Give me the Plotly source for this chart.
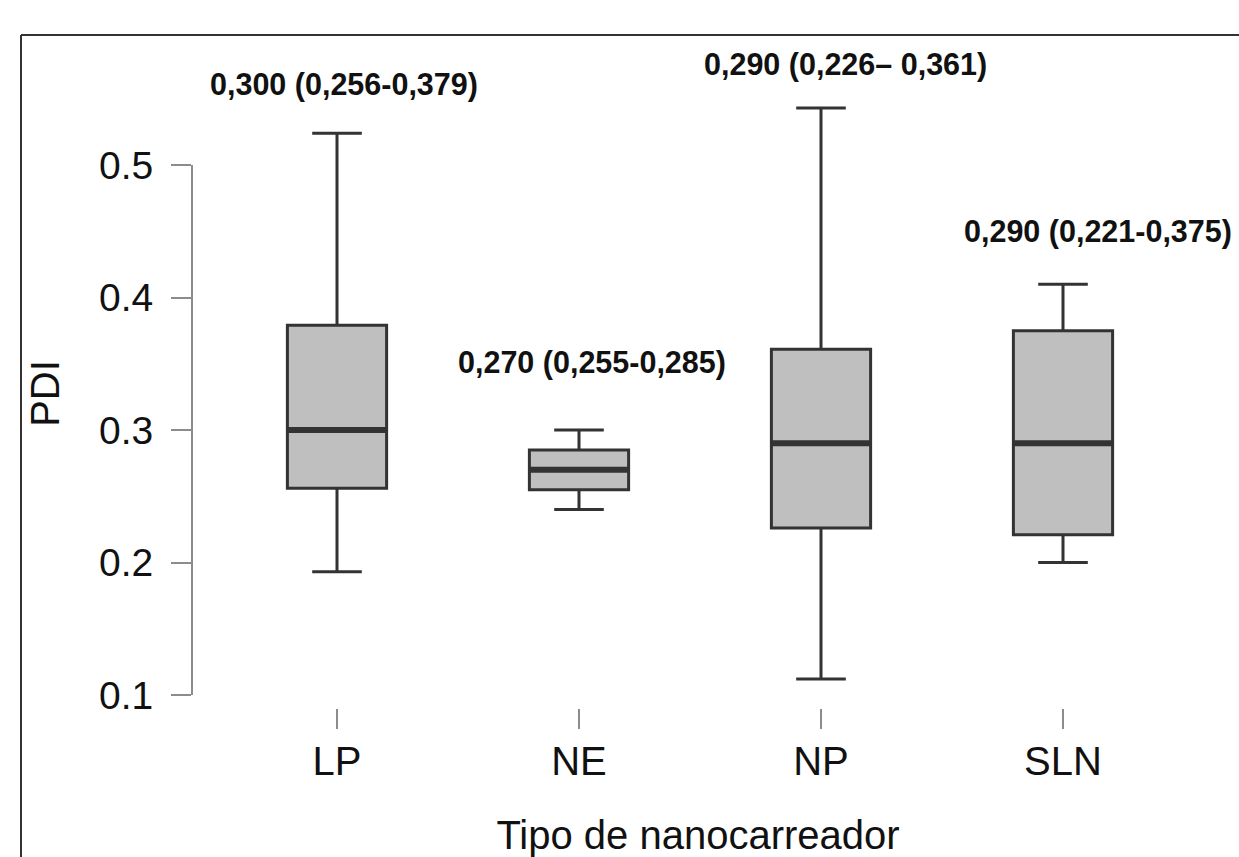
import plotly.graph_objects as go

# ---- data ----
categories = ["LP", "NE", "NP", "SLN"]
lower_whisker = [0.193, 0.240, 0.112, 0.200]
q1_values = [0.256, 0.255, 0.226, 0.221]
median_values = [0.300, 0.270, 0.290, 0.290]
q3_values = [0.379, 0.285, 0.361, 0.375]
upper_whisker = [0.524, 0.300, 0.543, 0.410]
summary_labels = [
    "0,300 (0,256-0,379)",
    "0,270 (0,255-0,285)",
    "0,290 (0,226\u2013 0,361)",
    "0,290 (0,221-0,375)",
]
y_tick_values = [0.1, 0.2, 0.3, 0.4, 0.5]
y_tick_text = ["0.1", "0.2", "0.3", "0.4", "0.5"]

# ---- layout constants ----
W, H = 1239, 857
ML, MR, MT, MB = 192, 35, 79, 149
FONT = "Liberation Sans, Arial, sans-serif"
label_x_offset = [0.027, 0.054, 0.10, 0.145]
label_y = [0.561, 0.351, 0.5755, 0.450]

px_per_unit = (695 - 165) / 0.4
y_bottom = 0.1 - (708 - 695) / px_per_unit
y_top = 0.5 + (165 - MT) / px_per_unit
x_left = (ML - 337) / 242
x_right = (W - MR - 337) / 242

fig = go.Figure()
fig.add_trace(go.Box(
    x=categories, q1=q1_values, median=median_values, q3=q3_values,
    lowerfence=lower_whisker, upperfence=upper_whisker,
    fillcolor="#bfbfbf", line=dict(color="#333333", width=3),
    whiskerwidth=0.5, width=0.41, boxpoints=False, hoverinfo="skip",
    showlegend=False,
))
# thick median lines
fig.add_trace(go.Box(
    x=categories, q1=median_values, median=median_values, q3=median_values,
    lowerfence=median_values, upperfence=median_values,
    fillcolor="rgba(0,0,0,0)", line=dict(color="#333333", width=6),
    whiskerwidth=0, width=0.41, boxpoints=False, hoverinfo="skip",
    showlegend=False,
))

for i, txt in enumerate(summary_labels):
    fig.add_annotation(
        x=i + label_x_offset[i], xref="x",
        y=(label_y[i] - y_bottom) / (y_top - y_bottom), yref="paper",
        text="<b>%s</b>" % txt, showarrow=False,
        font=dict(family=FONT, size=30.5, color="#111111"),
        xanchor="center", yanchor="middle",
    )

# y axis line only spanning the tick range (R style)
fig.add_shape(type="line", xref="paper", yref="y",
              x0=0, x1=0, y0=min(y_tick_values), y1=max(y_tick_values),
              line=dict(color="#8c8c8c", width=2))
# outer frame (cropped on right/bottom): only left and top edges visible
plot_w = W - ML - MR
plot_h = H - MT - MB
fx0 = (21 - ML) / plot_w
fx1 = (W - ML) / plot_w
fy_top = (H - MB - 35) / plot_h
fy_bot = (H - MB - H) / plot_h
fig.add_shape(type="line", xref="paper", yref="paper",
              x0=fx0, x1=fx0, y0=fy_bot, y1=fy_top,
              line=dict(color="#333333", width=2), layer="above")
fig.add_shape(type="line", xref="paper", yref="paper",
              x0=fx0, x1=fx1, y0=fy_top, y1=fy_top,
              line=dict(color="#333333", width=2), layer="above")

fig.update_layout(
    width=W, height=H, autosize=False,
    margin=dict(l=ML, r=MR, t=MT, b=MB),
    paper_bgcolor="white", plot_bgcolor="white",
    font=dict(family=FONT, color="#111111"),
    xaxis=dict(
        type="category", range=[x_left, x_right], automargin=False,
        showline=False, showgrid=False, zeroline=False,
        ticks="outside", ticklen=20, tickwidth=2, tickcolor="#8c8c8c",
        tickfont=dict(family=FONT, size=40, color="#111111"),
        ticklabelstandoff=-2,
        title=dict(text="Tipo de nanocarreador",
                   font=dict(family=FONT, size=40, color="#111111"),
                   standoff=50),
    ),
    yaxis=dict(
        range=[y_bottom, y_top], automargin=False,
        showline=False, showgrid=False, zeroline=False,
        tickmode="array", tickvals=y_tick_values, ticktext=y_tick_text,
        ticks="outside", ticklen=20, tickwidth=2, tickcolor="#8c8c8c",
        tickfont=dict(family=FONT, size=39, color="#111111"),
        ticklabelstandoff=10,
        title=dict(text="PDI",
                   font=dict(family=FONT, size=40, color="#111111"),
                   standoff=26),
    ),
)

fig.write_html(
    "out.html", config={"displayModeBar": False},
    post_script=("document.body.style.margin='0';"
                 "document.body.style.overflow='hidden';"
                 "document.documentElement.style.overflow='hidden';"),
)
